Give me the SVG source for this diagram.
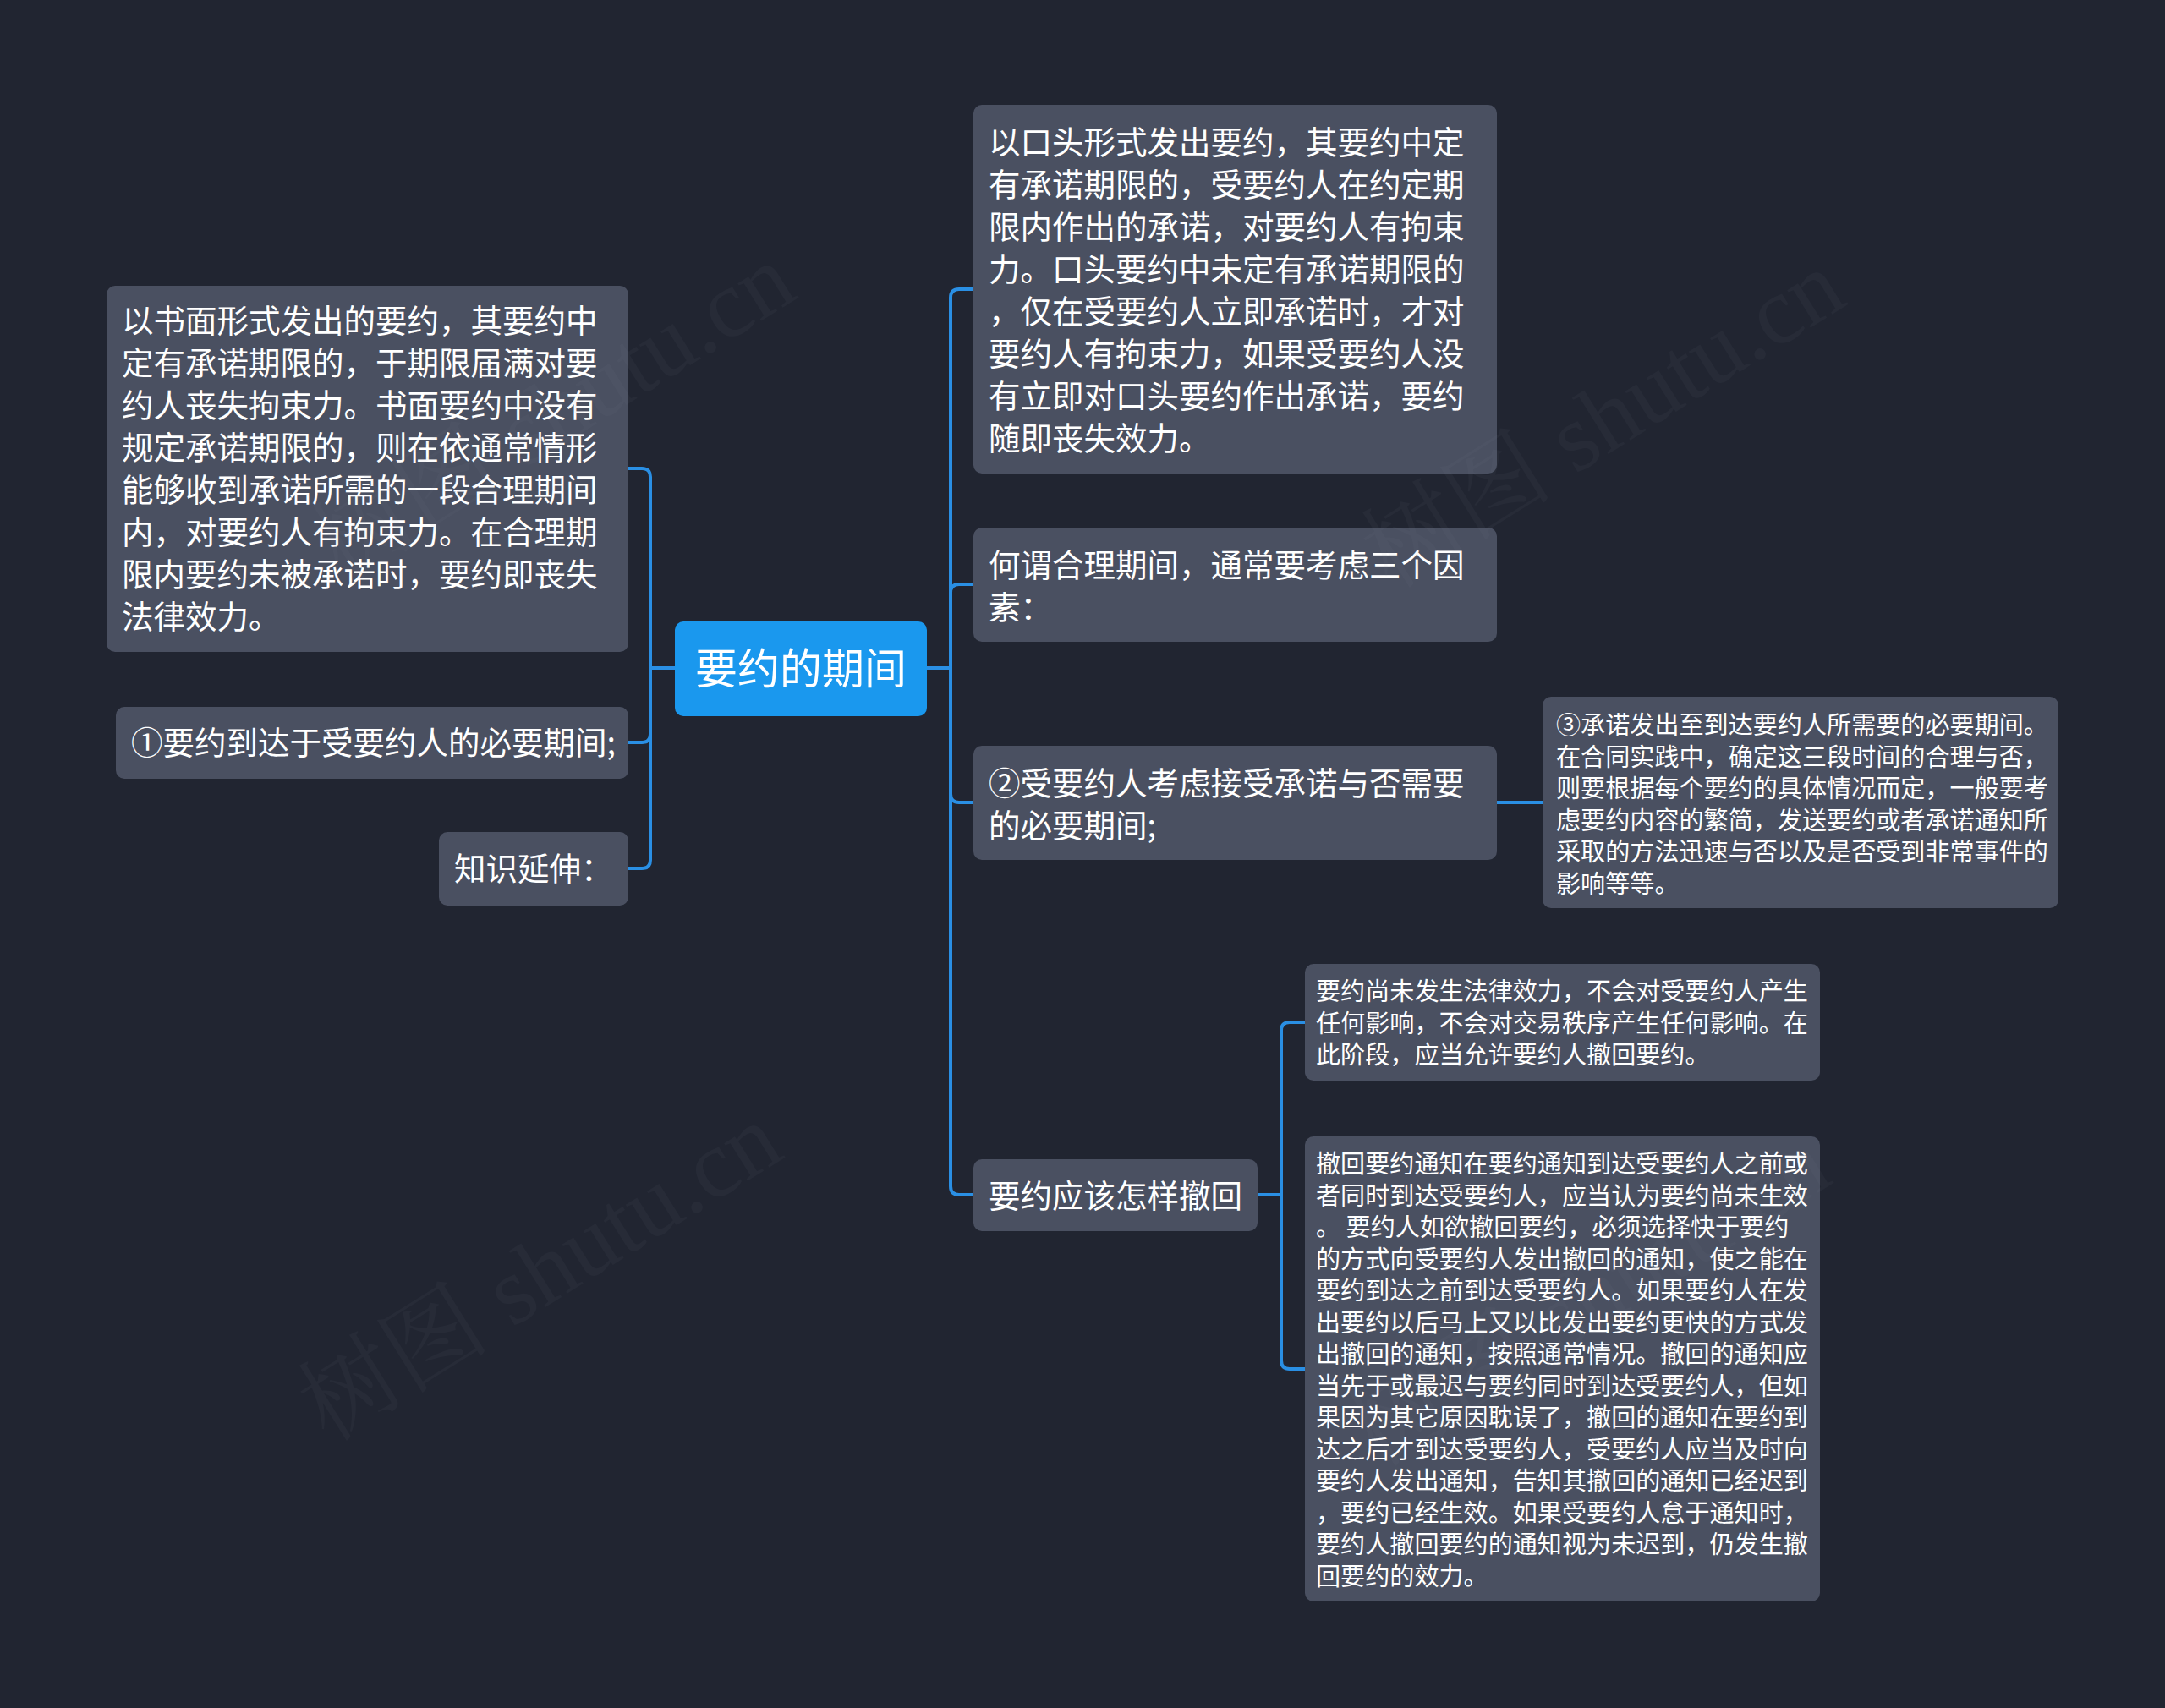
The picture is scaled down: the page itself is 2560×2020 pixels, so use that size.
<svg xmlns="http://www.w3.org/2000/svg" width="2560" height="2020" viewBox="0 0 2560 2020">
<style>
.bg{fill:#212531}
.node{fill:#4a5061}
.root{fill:#1a98ee}
.t{font-family:"Noto Sans CJK SC","Noto Sans",sans-serif;fill:#ffffff;font-size:37.5px}
.s{font-family:"Noto Sans CJK SC","Noto Sans",sans-serif;fill:#ffffff;font-size:29.1px}
.rt{font-family:"Noto Sans CJK SC","Noto Sans",sans-serif;fill:#ffffff;font-size:50px}
.c{fill:none;stroke:#2a8fe4;stroke-width:4;stroke-linecap:round;stroke-linejoin:round}
.wm{font-family:"Liberation Serif","Noto Serif CJK SC","Noto Sans CJK SC",serif;font-size:114px;fill:#8890a0;opacity:0.055}
</style>
<rect class="bg" x="0" y="0" width="2560" height="2020"/>

<g id="connectors">
<path class="c" d="M798,790 H769"/>
<path class="c" d="M769,790 V564 Q769,554 759,554 H743"/>
<path class="c" d="M769,790 V868 Q769,878 759,878 H743"/>
<path class="c" d="M769,790 V1017 Q769,1027 759,1027 H743"/>
<path class="c" d="M1096,790 H1124"/>
<path class="c" d="M1124,790 V352 Q1124,342 1134,342 H1151"/>
<path class="c" d="M1124,790 V701 Q1124,691 1134,691 H1151"/>
<path class="c" d="M1124,790 V939 Q1124,949 1134,949 H1151"/>
<path class="c" d="M1124,790 V1403 Q1124,1413 1134,1413 H1151"/>
<path class="c" d="M1770,949 H1824"/>
<path class="c" d="M1487,1413 H1515"/>
<path class="c" d="M1515,1413 V1219 Q1515,1209 1525,1209 H1543"/>
<path class="c" d="M1515,1413 V1609 Q1515,1619 1525,1619 H1543"/>
</g>

<g id="root">
<rect class="root" x="798" y="735" width="298" height="112" rx="10"/>
<text class="rt" x="947" y="809" text-anchor="middle">要约的期间</text>
</g>

<g id="left-written">
<rect class="node" x="126" y="338" width="617" height="433" rx="10"/>
<text class="t" x="144" y="393">以书面形式发出的要约，其要约中</text>
<text class="t" x="144" y="443">定有承诺期限的，于期限届满对要</text>
<text class="t" x="144" y="493">约人丧失拘束力。书面要约中没有</text>
<text class="t" x="144" y="543">规定承诺期限的，则在依通常情形</text>
<text class="t" x="144" y="593">能够收到承诺所需的一段合理期间</text>
<text class="t" x="144" y="643">内，对要约人有拘束力。在合理期</text>
<text class="t" x="144" y="693">限内要约未被承诺时，要约即丧失</text>
<text class="t" x="144" y="743">法律效力。</text>
</g>

<g id="left-1">
<rect class="node" x="137" y="836" width="606" height="85" rx="10"/>
<text class="t" x="155" y="892">①要约到达于受要约人的必要期间;</text>
</g>

<g id="left-ext">
<rect class="node" x="519" y="984" width="224" height="87" rx="10"/>
<text class="t" x="537" y="1041">知识延伸：</text>
</g>

<g id="right-oral">
<rect class="node" x="1151" y="124" width="619" height="436" rx="10"/>
<text class="t" x="1169" y="182">以口头形式发出要约，其要约中定</text>
<text class="t" x="1169" y="232">有承诺期限的，受要约人在约定期</text>
<text class="t" x="1169" y="282">限内作出的承诺，对要约人有拘束</text>
<text class="t" x="1169" y="332">力。口头要约中未定有承诺期限的</text>
<text class="t" x="1169" y="382">，仅在受要约人立即承诺时，才对</text>
<text class="t" x="1169" y="432">要约人有拘束力，如果受要约人没</text>
<text class="t" x="1169" y="482">有立即对口头要约作出承诺，要约</text>
<text class="t" x="1169" y="532">随即丧失效力。</text>
</g>

<g id="right-reasonable">
<rect class="node" x="1151" y="624" width="619" height="135" rx="10"/>
<text class="t" x="1169" y="682">何谓合理期间，通常要考虑三个因</text>
<text class="t" x="1169" y="732">素：</text>
</g>

<g id="right-2">
<rect class="node" x="1151" y="882" width="619" height="135" rx="10"/>
<text class="t" x="1169" y="940">②受要约人考虑接受承诺与否需要</text>
<text class="t" x="1169" y="990">的必要期间;</text>
</g>

<g id="right-3">
<rect class="node" x="1824" y="824" width="610" height="250" rx="10"/>
<text class="s" x="1840" y="868">③承诺发出至到达要约人所需要的必要期间。</text>
<text class="s" x="1840" y="905.5">在合同实践中，确定这三段时间的合理与否，</text>
<text class="s" x="1840" y="943">则要根据每个要约的具体情况而定，一般要考</text>
<text class="s" x="1840" y="980.5">虑要约内容的繁简，发送要约或者承诺通知所</text>
<text class="s" x="1840" y="1018">采取的方法迅速与否以及是否受到非常事件的</text>
<text class="s" x="1840" y="1055.5">影响等等。</text>
</g>

<g id="right-revoke">
<rect class="node" x="1151" y="1371" width="336" height="85" rx="10"/>
<text class="t" x="1169" y="1428">要约应该怎样撤回</text>
</g>

<g id="revoke-1">
<rect class="node" x="1543" y="1140" width="609" height="138" rx="10"/>
<text class="s" x="1556" y="1183">要约尚未发生法律效力，不会对受要约人产生</text>
<text class="s" x="1556" y="1220.5">任何影响，不会对交易秩序产生任何影响。在</text>
<text class="s" x="1556" y="1258">此阶段，应当允许要约人撤回要约。</text>
</g>

<g id="revoke-2">
<rect class="node" x="1543" y="1344" width="609" height="550" rx="10"/>
<text class="s" x="1556" y="1387">撤回要约通知在要约通知到达受要约人之前或</text>
<text class="s" x="1556" y="1424.5">者同时到达受要约人，应当认为要约尚未生效</text>
<text class="s" x="1556" y="1462" xml:space="preserve">。 要约人如欲撤回要约，必须选择快于要约</text>
<text class="s" x="1556" y="1499.5">的方式向受要约人发出撤回的通知，使之能在</text>
<text class="s" x="1556" y="1537">要约到达之前到达受要约人。如果要约人在发</text>
<text class="s" x="1556" y="1574.5">出要约以后马上又以比发出要约更快的方式发</text>
<text class="s" x="1556" y="1612">出撤回的通知，按照通常情况。撤回的通知应</text>
<text class="s" x="1556" y="1649.5">当先于或最迟与要约同时到达受要约人，但如</text>
<text class="s" x="1556" y="1687">果因为其它原因耽误了，撤回的通知在要约到</text>
<text class="s" x="1556" y="1724.5">达之后才到达受要约人，受要约人应当及时向</text>
<text class="s" x="1556" y="1762">要约人发出通知，告知其撤回的通知已经迟到</text>
<text class="s" x="1556" y="1799.5">，要约已经生效。如果受要约人怠于通知时，</text>
<text class="s" x="1556" y="1837">要约人撤回要约的通知视为未迟到，仍发生撤</text>
<text class="s" x="1556" y="1874.5">回要约的效力。</text>
</g>

<g id="watermarks">
<text class="wm" x="661" y="498" text-anchor="middle" dominant-baseline="middle" transform="rotate(-32 661 498)">树图 shutu.cn</text>
<text class="wm" x="1902" y="506" text-anchor="middle" dominant-baseline="middle" transform="rotate(-32 1902 506)">树图 shutu.cn</text>
<text class="wm" x="645" y="1515" text-anchor="middle" dominant-baseline="middle" transform="rotate(-32 645 1515)">树图 shutu.cn</text>
<text class="wm" x="1885" y="1545" text-anchor="middle" dominant-baseline="middle" transform="rotate(-32 1885 1545)">树图 shutu.cn</text>
</g>
</svg>
